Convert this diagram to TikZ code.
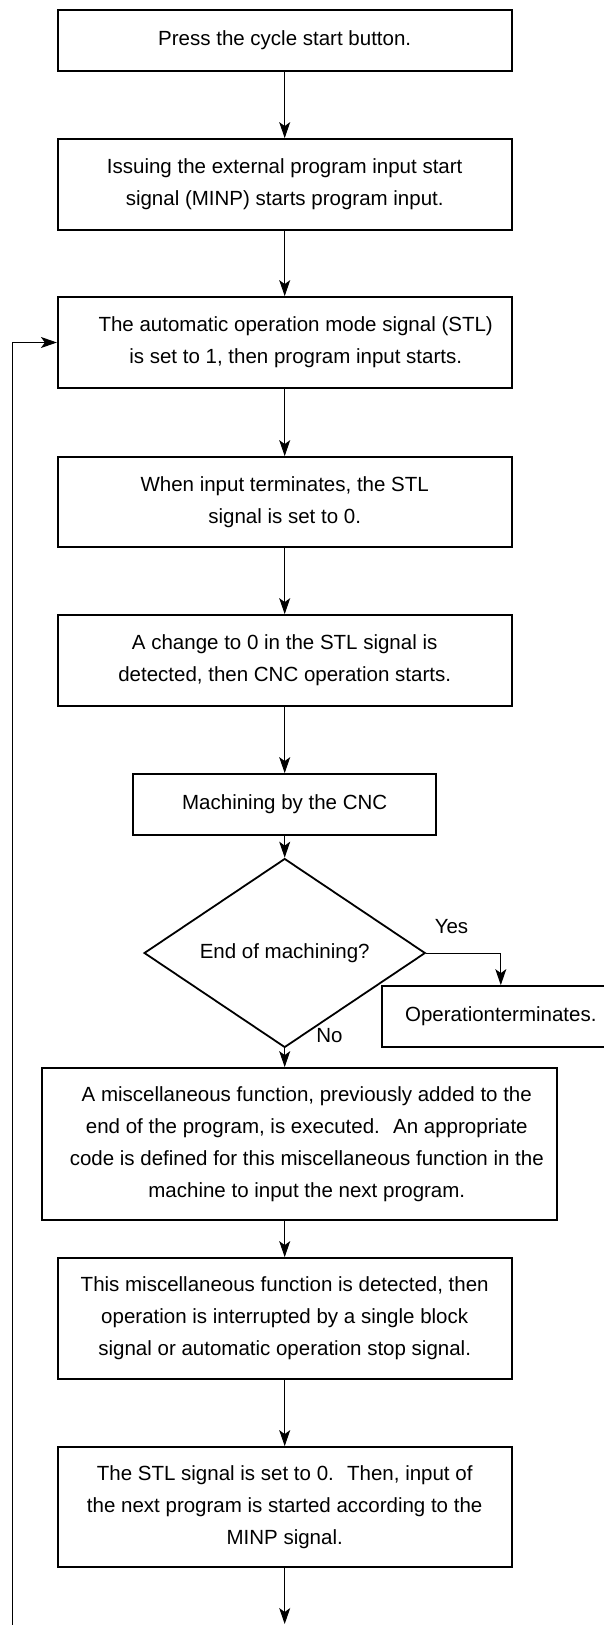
\documentclass[tikz,border=0pt]{standalone}
\usepackage{fontspec}
\setmainfont{Liberation Sans}
\usetikzlibrary{arrows.meta,shapes.geometric}
\begin{document}
\begin{tikzpicture}[x=1pt,y=-1pt,
  txt/.style={font=\fontsize{20.5}{32}\selectfont},
  box/.style={draw,line width=1.8pt,rectangle,align=center,inner sep=0pt,txt},
  dec/.style={draw,line width=1.8pt,diamond,align=center,inner sep=0pt,txt},
  conn/.style={line width=1pt,-{Stealth[length=16pt,width=11pt,inset=4pt]}}]
\useasboundingbox (0,0) rectangle (604,1625);
\clip (0,0) rectangle (604,1625);
\node[box,minimum width=453.8pt,minimum height=61pt] (b1) at (284.7,40.5) {Press the cycle start button.};
\node[box,minimum width=453.8pt,minimum height=91pt] (b2) at (284.7,184.5) {Issuing the external program input start\\signal (MINP) starts program input.};
\node[box,minimum width=453.8pt,minimum height=91pt] (b3) at (284.7,342.5) {\hspace*{22pt}The automatic operation mode signal (STL)\\\hspace*{22pt}is set to 1, then program input starts.};
\node[box,minimum width=453.8pt,minimum height=90pt] (b4) at (284.7,502) {When input terminates, the STL\\signal is set to 0.};
\node[box,minimum width=453.8pt,minimum height=91pt] (b5) at (284.7,660.5) {A change to 0 in the STL signal is\\detected, then CNC operation starts.};
\node[box,minimum width=303pt,minimum height=61pt] (b6) at (284.7,804.5) {Machining by the CNC};
\node[dec,minimum width=281.2pt,minimum height=114pt] (d) at (284.7,953) {End of machining?};
\node[box,minimum width=238.3pt,minimum height=61pt] (op) at (500.8,1016.5) {Operationterminates.};
\node[box,minimum width=515.4pt,minimum height=152pt] (b7) at (299.3,1144) {\hspace*{15pt}A miscellaneous function, previously added to the\\\hspace*{15pt}end of the program, is executed.~ An appropriate\\\hspace*{15pt}code is defined for this miscellaneous function in the\\\hspace*{15pt}machine to input the next program.};
\node[box,minimum width=453.8pt,minimum height=121pt] (b8) at (284.7,1318.5) {This miscellaneous function is detected, then\\operation is interrupted by a single block\\signal or automatic operation stop signal.};
\node[box,minimum width=453.8pt,minimum height=120pt] (b9) at (284.7,1507) {The STL signal is set to 0.~ Then, input of\\the next program is started according to the\\MINP signal.};
\node[txt] (yes) at (451.5,927) {Yes};
\node[txt] (no) at (329.5,1036) {No};
\coordinate (bot) at (284.7,1624);
\coordinate (loopbot) at (12.7,1626);
\coordinate (yescorner) at (500.8,953);
\draw[conn] (b1) -- (b2);
\draw[conn] (b2) -- (b3);
\draw[conn] (b3) -- (b4);
\draw[conn] (b4) -- (b5);
\draw[conn] (b5) -- (b6);
\draw[conn] (b6) -- (d);
\draw[conn] (d.south) -- (d.south |- b7.north);
\draw[conn] (d.east) -- (yescorner) -- (op.north -| yescorner);
\draw[conn] (b7.south -| b8.north) -- (b8);
\draw[conn] (b8) -- (b9);
\draw[conn] (b9) -- (bot);
\draw[conn] (loopbot) |- (b3.west);
\end{tikzpicture}
\end{document}
